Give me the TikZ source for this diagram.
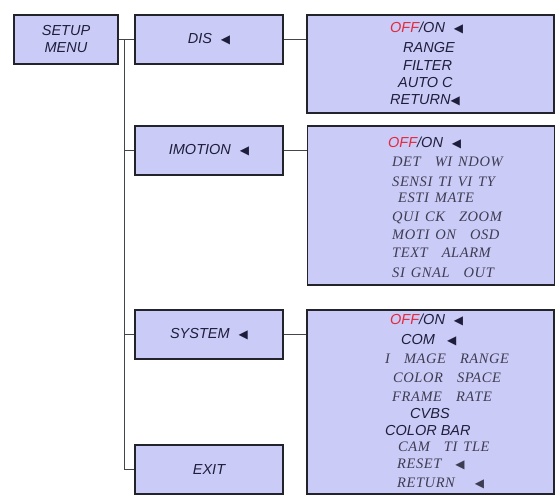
\documentclass[tikz,border=0pt]{standalone}
\usepackage{fontspec}
\setmainfont{Liberation Sans}
\newfontfamily\menuserif[LetterSpace=4]{Liberation Serif}
\newfontfamily\symfont{DejaVu Sans}
\usetikzlibrary{positioning,calc}
\definecolor{menubg}{HTML}{CBCBF7}
\definecolor{menuline}{HTML}{23232B}
\definecolor{inkblue}{HTML}{1E1E3C}
\definecolor{inkgray}{HTML}{3C3C52}
\definecolor{offred}{HTML}{E02A3E}
\newcommand{\tri}{{\symfont\upshape\fontsize{12}{12}\selectfont ◀}}
\newcommand{\offon}{\textcolor{offred}{OFF}/ON}
\newcommand{\wsp}{\hspace{14pt}}
\newcommand{\seriffont}{\menuserif\itshape\fontsize{14.5}{16}\selectfont\spaceskip 6pt\relax}
\tikzset{
  menubox/.style={draw=menuline, fill=menubg, line width=1.3pt, inner sep=0pt,
                  align=center, text=inkblue, font=\itshape\fontsize{14.5}{17}\selectfont},
  mainbox/.style={menubox, minimum width=148pt, minimum height=49pt},
  subbox/.style={draw=menuline, fill=menubg, line width=1.3pt, inner sep=0pt,
                 minimum width=247pt},
  itemsans/.style={anchor=west, inner sep=0pt, text=inkblue,
                   font=\itshape\fontsize{14.5}{17}\selectfont},
  itemserif/.style={anchor=west, inner sep=0pt, text=inkgray, font=\seriffont},
  link/.style={draw=menuline!85, line width=1pt}}

\begin{document}
\begin{tikzpicture}[x=1pt, y=-1pt]
  \useasboundingbox (0,0) rectangle (556,499);
  % left column
  \node[menubox, minimum width=104pt, minimum height=49pt] (setup) at (66,39.5) {SETUP\\MENU};
  \node[mainbox] (dis)     at (209,39.5)  {DIS\hspace{9pt}\tri};
  \node[mainbox] (imotion) at (209,150.5) {IMOTION\hspace{9pt}\tri};
  \node[mainbox] (system)  at (209,334.5) {SYSTEM\hspace{9pt}\tri};
  \node[mainbox] (exit)    at (209,469.5) {EXIT};
  % submenus
  \node[subbox, minimum height=98pt]  (dissub) at (430.5,64)  {};
  \node[subbox, minimum height=159pt] (imosub) at (431,205.5) {};
  \node[subbox, minimum height=184pt] (syssub) at (430.5,402) {};
  % tree lines
  \coordinate (trunk) at ($(setup.east)+(6,0)$);
  \draw[link] (setup.east) -- (dis.west);
  \draw[link] (trunk) |- (exit.west);
  \draw[link] (trunk |- imotion.west) -- (imotion.west);
  \draw[link] (trunk |- system.west) -- (system.west);
  \draw[link] (dis.east) -- (dis.east -| dissub.west);
  \draw[link] (imotion.east) -- (imotion.east -| imosub.west);
  \draw[link] (system.east) -- (system.east -| syssub.west);
  % DIS items
  \node[itemsans] (d1) at (390,28)  {\offon\hspace{9pt}\tri};
  \node[itemsans] (d2) at (403,48)  {RANGE};
  \node[itemsans] (d3) at (403,66)  {FILTER};
  \node[itemsans] (d4) at (398,83)  {AUTO C};
  \node[itemsans] (d5) at (390,100) {RETURN\tri};
  % IMOTION items
  \node[itemsans]  (m1) at (388,143) {\offon\hspace{9pt}\tri};
  \node[itemserif] (m2) at (392,162) {DET\wsp WI NDOW};
  \node[itemserif] (m3) at (392,182) {SENSI TI VI TY};
  \node[itemserif] (m4) at (398,198) {ESTI MATE};
  \node[itemserif] (m5) at (392,218) {QUI CK\wsp ZOOM};
  \node[itemserif] (m6) at (392,235) {MOTI ON\wsp OSD};
  \node[itemserif] (m7) at (392,253) {TEXT\wsp ALARM};
  \node[itemserif] (m8) at (392,273) {SI GNAL\wsp OUT};
  % SYSTEM items
  \node[itemsans]  (s1)  at (390,320) {\offon\hspace{9pt}\tri};
  \node[itemsans]  (s2)  at (401,340) {COM\hspace{12pt}\tri};
  \node[itemserif] (s3)  at (385,359) {I\wsp MAGE\wsp RANGE};
  \node[itemserif] (s4)  at (393,378) {COLOR\wsp SPACE};
  \node[itemserif] (s5)  at (392,397) {FRAME\wsp RATE};
  \node[itemsans]  (s6)  at (410,413) {CVBS};
  \node[itemsans]  (s7)  at (385,430) {COLOR BAR};
  \node[itemserif] (s8)  at (398,447) {CAM\wsp TI TLE};
  \node[itemserif] (s9)  at (397,464) {RESET\hspace{14pt}\tri};
  \node[itemserif] (s10) at (397,483) {RETURN\hspace{20pt}\tri};
\end{tikzpicture}
\end{document}
